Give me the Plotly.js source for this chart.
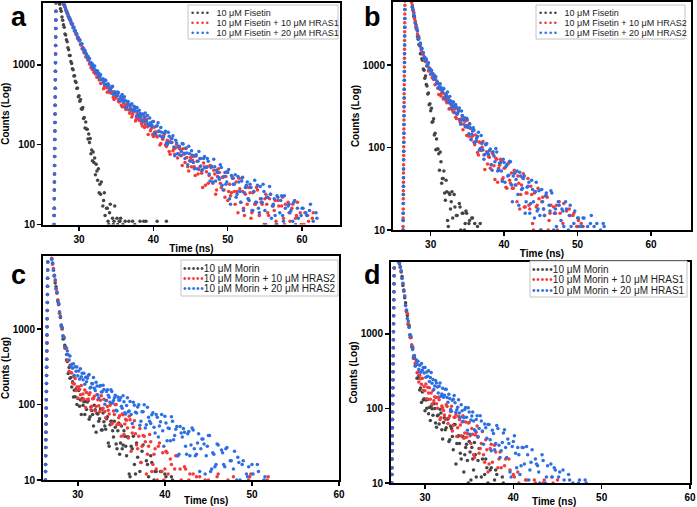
<!DOCTYPE html>
<html><head><meta charset="utf-8">
<script src="https://cdn.plot.ly/plotly-3.0.1.min.js"></script>
<style>html,body{margin:0;padding:0;background:#fff}#chart{width:697px;height:507px}</style>
</head><body><div id="chart"></div>
<script>
// ---------------- DATA ----------------
const yTickVals = [10, 100, 1000];
const yTickText = ['10', '100', '1000'];
const xTickVals = [30, 40, 50, 60];
const panelLetters = ['a', 'b', 'c', 'd'];
const xTitle = 'Time (ns)';
const yTitle = 'Counts (Log)';

const legendA = ['10 μM Fisetin', '10 μM Fisetin + 10 μM HRAS1', '10 μM Fisetin + 20 μM HRAS1'];
const legendB = ['10 μM Fisetin', '10 μM Fisetin + 10 μM HRAS2', '10 μM Fisetin + 20 μM HRAS2'];
const legendC = ['10 μM Morin', '10 μM Morin + 10 μM HRAS2', '10 μM Morin + 20 μM HRAS2'];
const legendD = ['10 μM Morin', '10 μM Morin + 10 μM HRAS1', '10 μM Morin + 20 μM HRAS1'];

// rising edge (time, ns)
const riseTimeA = [26.62,26.63,26.64,26.65,26.66,26.67,26.68,26.69,26.70,26.71,26.72,26.73,26.74,26.75,26.76,26.77,26.78,26.79,26.80,26.81,26.82,26.83,26.84,26.85,26.86,26.87,26.88,26.89,26.90,26.91,26.92,26.93];
const riseTimeB = [26.22,26.23,26.24,26.25,26.26,26.27,26.28,26.29,26.30,26.31,26.32,26.33,26.34,26.35,26.36,26.37,26.38,26.39,26.40,26.41,26.42,26.43,26.44,26.45,26.46,26.47,26.48,26.49,26.50,26.51,26.52,26.53];
const riseTimeC = [26.26,26.27,26.28,26.29,26.30,26.31,26.32,26.33,26.34,26.35,26.36,26.37,26.38,26.39,26.40,26.41,26.42,26.43,26.44,26.45,26.46,26.47,26.48,26.49,26.50,26.51,26.52,26.53,26.54,26.55,26.56,26.57];
const riseTimeD = [26.22,26.23,26.24,26.25,26.26,26.27,26.28,26.29,26.30,26.31,26.32,26.33,26.34,26.35,26.36,26.37,26.38,26.39,26.40,26.41,26.42,26.43,26.44,26.45,26.46,26.47,26.48,26.49,26.50,26.51,26.52,26.53];
const riseCounts = [6,8,10,13,16,21,27,34,43,55,71,90,116,149,190,243,312,398,510,652,836,1070,1368,1752,2245,2870,3676,4705,6025,7710,9870,12600];
const riseCountsAlt = [7,9,11,14,18,24,30,38,49,62,80,102,131,168,215,275,352,450,576,738,945,1210,1548,1982,2540,3250,4160,5320,6815,8720,11150,14200];

// decay time channels (ns)
const tDecayA = [27,27.1,27.2,27.3,27.4,27.5,27.6,27.7,27.8,27.9,
28,28.1,28.2,28.3,28.4,28.5,28.6,28.7,28.8,28.9,
29,29.1,29.2,29.3,29.4,29.5,29.6,29.7,29.8,29.9,
30,30.1,30.2,30.3,30.4,30.5,30.6,30.7,30.8,30.9,
31,31.1,31.2,31.3,31.4,31.5,31.6,31.7,31.8,31.9,
32,32.1,32.2,32.3,32.4,32.5,32.6,32.7,32.8,32.9,
33,
33.2,33.4,33.6,33.8,34,34.2,34.4,34.6,34.8,35,
35.2,35.4,35.6,35.8,36,36.2,36.4,36.6,36.8,37,
37.2,37.4,37.6,37.8,38,38.2,38.4,38.6,38.8,39,
39.2,39.4,39.6,39.8,40,
40.25,40.5,40.75,41,41.25,41.5,41.75,42,42.25,42.5,42.75,43,
43.25,43.5,43.75,44,44.25,44.5,44.75,45,
45.25,45.5,45.75,46,46.25,46.5,46.75,47,
47.25,47.5,47.75,48,48.25,48.5,48.75,49,
49.25,49.5,49.75,50,50.25,50.5,50.75,51,
51.25,51.5,51.75,52,52.25,52.5,52.75,53,
53.25,53.5,53.75,54,54.25,54.5,54.75,55,
55.25,55.5,55.75,56,56.25,56.5,56.75,57,
57.25,57.5,57.75,58,58.25,58.5,58.75,59,
59.25,59.5,59.75,60,60.25,60.5,60.75,61,
61.25,61.5,61.75,62];
const tMidA = [33.3,33.5,33.7,33.9,34.1,34.3,34.5,34.7,34.9,35.1,35.3,35.5,35.7,35.9,36.1,36.3,36.5,36.7,36.9,37.1,
37.3,37.5,37.7,37.9,38.1,38.3,38.5,38.7,38.9,39.1,39.3,39.5,39.7,39.9,
40.125,40.375,40.625,40.875,41.125,41.375,41.625,41.875,42.125,42.375,42.625,42.875,
43.125,43.375,43.625,43.875,44.125,44.375,44.625,44.875,
45.125,45.375,45.625,45.875,46.125,46.375,46.625,46.875,
47.125,47.375,47.625,47.875,48.125,48.375,48.625,48.875,
49.125,49.375,49.625,49.875,50.125,50.375,50.625,50.875,
51.125,51.375,51.625,51.875,52.125,52.375,52.625,52.875,
53.125,53.375,53.625,53.875,54.125,54.375,54.625,54.875,
55.125,55.375,55.625,55.875,56.125,56.375,56.625,56.875,
57.125,57.375,57.625,57.875,58.125,58.375,58.625,58.875,
59.125,59.375,59.625,59.875,60.125,60.375,60.625,60.875,
61.125,61.375,61.625,61.875];
const tDecayB = [27,27.1,27.2,27.3,27.4,27.5,27.6,27.7,27.8,27.9,
28,28.1,28.2,28.3,28.4,28.5,28.6,28.7,28.8,28.9,
29,29.1,29.2,29.3,29.4,29.5,29.6,29.7,29.8,29.9,
30,30.1,30.2,30.3,30.4,30.5,30.6,30.7,30.8,30.9,
31,
31.2,31.4,31.6,31.8,32,32.2,32.4,32.6,32.8,33,
33.2,33.4,33.6,33.8,34,34.2,34.4,34.6,34.8,35,
35.2,35.4,35.6,35.8,36,
36.25,36.5,36.75,37,37.25,37.5,37.75,38,38.25,38.5,38.75,39,
39.25,39.5,39.75,40,40.25,40.5,40.75,41,
41.25,41.5,41.75,42,42.25,42.5,42.75,43,
43.25,43.5,43.75,44,44.25,44.5,44.75,45,
45.25,45.5,45.75,46,46.25,46.5,46.75,47,
47.25,47.5,47.75,48,48.25,48.5,48.75,49,
49.25,49.5,49.75,50,50.25,50.5,50.75,51,
51.25,51.5,51.75,52,52.25,52.5,52.75,53,
53.25,53.5,53.75,54];
const tMidB = [31.1,31.3,31.5,31.7,31.9,32.1,32.3,32.5,32.7,32.9,33.1,33.3,33.5,33.7,33.9,34.1,34.3,34.5,34.7,34.9,
35.1,35.3,35.5,35.7,35.9,
36.125,36.375,36.625,36.875,37.125,37.375,37.625,37.875,38.125,38.375,38.625,38.875,
39.125,39.375,39.625,39.875,40.125,40.375,40.625,40.875,
41.125,41.375,41.625,41.875,42.125,42.375,42.625,42.875,
43.125,43.375,43.625,43.875,44.125,44.375,44.625,44.875,
45.125,45.375,45.625,45.875,46.125,46.375,46.625,46.875,
47.125,47.375,47.625,47.875,48.125,48.375,48.625,48.875,
49.125,49.375,49.625,49.875,50.125,50.375,50.625,50.875,
51.125,51.375,51.625,51.875,52.125,52.375,52.625,52.875,
53.125,53.375,53.625,53.875];

// ---- panel a: Fisetin + HRAS1 ----
const grayA = [8800,8150,7070,6540,5790,5080,4720,3985,3640,3185,
2968,2452,2373,2077,1957,1644,1557,1312,1318,1105,
1040,898,870,727,733,625,604,507,515,401,
411,352,368,282,279,293,214,219,162,193,
158,156,118,136,107,120,77,86,63,81,
60,68,42,57,47,36,50,25,32,24,
34,
17,25,9,16,10,18,5,10,17,6,
10,11,12,7,9,11,6,8,5,9,
11,7,6,9,7,11,5,8,6,11,
7,5,8,6,9,
7,11,6,8,5,9,11,6,4,7];
const grayAMid = [20,13,16,11,14,9,12,11,8,12,9,11,6,10,8,5,9,11,6,8,5,10,7,6,9,5,8,11,6,4,8,5,9,6];
const redA = [8930,8470,8340,7670,7650,7220,7020,6440,6270,5780,
5760,5280,5100,4690,4600,4140,4080,3805,3775,3380,
3310,3300,2955,2910,2640,2695,2430,2365,2153,2178,
2008,2020,1798,1776,1602,1652,1516,1412,1458,1269,
1286,1230,1144,1182,1026,1071,926,981,873,882,
802,840,772,823,701,715,758,648,671,587,
654,
649,529,542,456,512,461,462,395,436,385,
417,343,357,300,334,314,282,320,248,265,
239,268,199,245,214,236,184,205,164,210,
168,181,150,175,127,
146,125,149,104,117,138,95,107,76,107,88,92,
68,90,73,89,60,69,47,69,
64,53,72,43,53,44,59,31,
53,41,54,33,43,27,50,33,
39,27,40,20,32,25,38,18,
26,38,19,26,13,29,21,25,
14,26,18,27,13,19,9,21,
18,13,24,9,15,11,20,5,
17,12,18,8,14,5,18,9,
13,7,14,4,10,7,13,4,
8,14,5,9];
const redAMid = [504,561,518,458,512,441,461,369,410,415,
352,375,312,379,297,277,321,273,289,222,
258,281,208,225,201,230,172,207,179,208,
134,175,159,134,
166,131,145,99,125,131,99,114,82,120,84,76,
101,77,88,55,76,90,53,63,
53,71,41,62,49,67,29,53,
46,33,55,38,48,24,40,45,
29,39,22,46,26,23,39,26,
34,14,28,38,16,24,18,29,
12,25,18,29,6,21,18,10,
24,14,21,6,17,20,10,17,
7,22,10,8,19,11,16,4,
12,19,5,10,7,14,4,11,
7,12,2,9];
const blueA = [8990,8400,8320,7830,7720,7140,6910,6380,6300,5950,
5580,5480,4930,4770,4460,4370,3905,3925,3650,3580,
3235,3200,2920,2995,2730,2675,2460,2470,2197,2205,
2067,2077,1831,1820,1840,1612,1613,1441,1516,1401,
1377,1238,1288,1180,1209,1058,1071,961,1028,981,
913,970,833,851,794,838,708,784,721,756,
658,
672,574,640,550,558,491,526,431,463,421,
458,372,391,425,341,360,296,348,311,316,
265,303,264,292,232,246,201,241,225,200,
232,174,189,168,195,
136,173,148,165,123,140,106,143,109,120,94,114,
77,96,82,102,67,79,96,62,
74,50,75,62,67,47,67,52,
67,43,52,34,53,48,39,56,
31,40,32,45,21,41,32,42,
24,34,19,39,25,31,21,32,
15,26,19,31,14,21,32,15,
22,9,24,17,21,10,22,14,
23,11,16,6,18,15,11,20,
7,12,8,16,3,14,9,15,
6,11,4,12];
const blueAMid = [607,652,568,581,475,517,543,432,449,410,
447,359,405,361,399,290,345,319,278,327,
276,295,226,263,270,221,243,194,250,194,
180,217,179,195,
141,170,188,130,143,125,148,101,128,107,130,73,
105,94,74,104,78,91,56,77,
84,60,73,50,82,54,49,71,
52,62,35,53,66,35,45,37,
52,27,45,34,49,18,38,32,
22,40,26,35,15,29,34,20,
29,15,36,19,16,30,19,26,
10,22,30,12,18,13,23,8,
20,13,23,4,17,14,7,19,
10,16,3,13,16,7,13,4,
18,7,6,14];

// ---- panel b: Fisetin + HRAS2 ----
const grayB = [9000,7860,7380,6420,5940,5025,4595,3910,3708,3272,
2841,2709,2207,2050,1773,1718,1368,1386,1191,1141,
895,865,689,734,580,557,445,458,329,340,
279,299,202,207,223,142,149,94,127,96,
96,
53,67,42,52,23,29,11,27,22,14,
27,8,15,9,19,2,16,10,17,5,
12,3,14,7,12,
6,9,12,5];
const grayBMid = [84,88,37,42,28,40,13,28,18,29,3,19,15,6,21,10,16,1,12,16,6,13,3,14,6,5,11,7,9];
const redB = [8760,8090,7020,6690,5785,5330,4620,4350,3650,3415,
2970,2860,2385,2259,2187,1800,1772,1526,1598,1433,
1316,1154,1219,1093,1134,964,973,844,921,864,
785,855,703,728,668,723,575,661,594,630,
522,
518,421,497,404,415,349,389,295,327,281,
320,232,253,286,204,223,164,214,179,185,
137,170,135,160,108,
119,81,114,101,81,109,63,76,62,83,41,72,
56,72,41,56,33,63,40,49,
32,49,22,37,27,43,19,28,
42,18,27,10,29,20,24,10,
25,15,26,10,16,5,19,16,
10,22,6,12,8,17,1,15,
9,16,5,11,3,12,11,4];
const redBMid = [438,504,456,388,448,369,392,293,339,340,
268,292,224,294,218,199,242,192,208,140,
176,196,124,139,116,
142,87,117,92,118,54,89,77,56,87,60,74,
38,61,68,43,57,32,65,37,
32,53,35,45,18,35,48,19,
28,20,34,12,28,19,32,4,
22,18,9,25,13,20,3,16,
20,8,16,5,21,8,6,18,
9,15,2,11,13,4,9,6];
const blueB = [8670,8130,7260,6420,6040,5120,4720,4160,3920,3222,
3100,2725,2593,2183,2087,1766,1852,1611,1579,1391,
1414,1198,1242,1134,1187,994,1014,1065,886,908,
771,866,787,789,683,750,670,719,597,619,
527,
585,537,474,521,400,419,373,414,299,357,
307,332,254,278,216,278,215,229,183,215,
147,173,145,174,114,
129,153,97,112,72,108,86,92,62,89,67,88,
53,65,39,66,59,45,68,35,
45,35,52,20,45,32,45,22,
34,16,40,22,29,17,30,10,
22,15,28,9,17,28,10,18,
4,20,13,17,5,18,10,20,
6,12,3,14,11,7,14,5,
9,6,12,3,11,7,6,4,
8,12,5,5];
const blueBMid = [538,593,499,512,393,441,470,350,368,322,
357,263,309,264,301,191,245,219,179,226,
175,192,125,159,163,
118,136,93,140,93,82,112,82,96,53,79,97,
52,65,52,72,38,62,46,67,
22,49,41,27,50,31,42,16,
33,38,21,31,14,38,18,15,
31,18,26,6,20,30,9,16,
11,22,5,18,11,22,1,15,
11,5,17,8,14,2,11,14,
5,11,3,15,6,4,12,6,
10,3,11,5];

// ---- panel c: Morin + HRAS2 ----
const grayC = [8460,7470,6040,5155,4078,3633,2990,2411,2180,1616,
1420,1132,1045,739,751,608,566,390,372,258,
310,223,227,171,200,126,155,127,161,100,
120,153,95,115,74,120,98,109,74,110,
86,
113,69,83,52,85,76,60,88,46,59,
47,69,28,60,45,60,30,45,22,52,
29,38,21,37,11,
26,16,31,8,17,29,8,16,2,17,10,13,
2,13,7,12,5,8,11,4];
const grayCMid = [108,64,93,74,98,43,75,65,46,77,
52,65,31,54,60,37,50,26,57,31,
26,45,28,37,12,
28,38,12,20,13,24,6,18,11,21,1,13,
9,4,13,6,11,2,8,10];
const redC = [8660,7215,6350,5000,4325,3400,3107,2420,2099,1638,
1488,1083,994,801,775,559,550,554,384,386,
275,330,266,262,192,235,187,221,153,171,
122,172,159,135,178,115,138,118,156,91,
144,
118,143,95,120,82,136,96,114,85,117,
67,94,75,104,57,74,100,55,71,38,
73,55,62,36,63,
42,61,29,38,17,39,32,22,40,13,22,14,
28,4,23,14,23,7,16,3,
21,8,14,5,15,2,10,6,
12,4,7,11,5,8,3,10,
6,9,4,11,5,7,3,8,
10,5,6,4,9,6,3,7,
5,8,11,4,6,3,7,5,
8,4,10,6];
const redCMid = [116,136,85,119,129,94,116,80,131,89,
81,113,84,98,55,82,99,54,67,54,
75,40,64,49,70,
24,50,41,26,48,28,38,12,28,32,16,26,
10,31,13,10,24,12,19,3,
14,21,5,10,6,14,3,12,
5,9,11,4,7,3,10,6,
8,4,9,5,12,3,7,6,
9,4,8,11,5,7,3,9,
6,4,10,12,5,8,3,6,
4,9,7,11];
const blueC = [8410,7457,5982,5129,4490,3452,2990,2305,2124,1691,
1454,1102,1034,817,780,577,584,459,510,457,
389,439,321,342,301,347,243,316,276,314,
240,278,217,297,234,260,213,260,185,229,
200,
243,165,190,228,153,176,122,178,148,158,
114,157,125,157,105,123,84,126,114,95,
131,78,97,80,110,
56,98,77,99,60,80,49,92,60,73,50,74,
37,59,45,70,33,48,69,34,
47,21,51,37,43,22,44,29,
46,21,31,13,35,30,21,39,
13,23,15,30,5,25,16,26,
9,18,5,24,10,17,7,18,
2,11,6,16,4,8,13,5,
9,11,4,7];
const blueCMid = [223,249,169,188,164,197,134,174,146,180,
101,149,133,107,149,113,133,82,115,123,
89,109,75,123,82,
74,107,79,93,53,80,99,54,68,56,78,42,
68,52,74,28,57,49,33,60,
39,51,22,42,48,28,41,21,
49,26,22,41,26,35,12,28,
39,14,22,16,29,9,23,15,
27,2,18,14,6,20,10,16,
2,12,15,5,12,3,16,6,
4,10,5,8];

// ---- panel d: Morin + HRAS1 ----
const grayD = [9850,8727,7960,6813,5918,4456,3901,3070,2630,2007,
1775,1350,1302,977,888,685,666,474,480,377,
385,255,257,275,177,188,120,167,130,135,
93,130,101,132,85,103,69,108,99,81,
116,
64,80,62,87,39,75,55,72,38,54,
28,61,34,43,25,42,14,30,20,36,
11,21,35,12,20,
4,21,13,16,4,16,8,15,3,9,12,5];
const grayDMid = [100,56,82,98,52,65,52,72,36,58,
42,61,18,42,34,21,42,24,33,10,
26,30,15,24,9,
29,12,8,21,10,15,2,11,13,4,7,10];
const redD = [9480,9030,7816,7082,5550,4714,3736,3228,2394,2089,
1880,1384,1227,903,904,719,644,487,507,406,
424,302,308,227,280,251,211,255,174,197,
173,213,135,193,161,190,133,161,115,174,
127,
140,101,131,75,102,82,112,63,80,107,
59,76,42,78,60,66,40,66,46,65,
34,45,22,48,41,
29,49,19,28,18,33,6,26,16,26,8,17,
4,21,8,13,5,14,4,9,
6,11,5,8,3,10,6,4,
9,11,5,7,3,10,6,11];
const redDMid = [144,116,142,71,108,94,71,106,75,91,
50,76,83,55,71,43,80,47,41,64,
43,54,24,44,58,
25,34,24,38,14,29,19,32,4,21,16,7,
21,9,15,2,12,7,10,5,
8,11,4,9,6,11,3,8,
5,10,6,4,9,12,5,7];
const blueD = [9250,9082,7928,7008,5590,4800,3769,3238,2431,2105,
1618,1499,1227,972,941,671,621,508,515,369,
450,391,431,337,380,307,401,326,354,299,
355,262,308,270,321,231,260,305,218,245,
180,
237,195,199,146,187,150,181,121,136,92,
133,119,96,131,76,93,75,103,51,90,
70,90,52,71,42,
80,50,62,40,61,27,46,34,54,22,35,52,
22,34,12,36,25,30,13,30,
18,31,11,19,5,21,17,10,
24,6,12,7,18,1,15,8,
14,4,11,3,13,6,10,4,
8,11,5,7,10,4];
const blueDMid = [200,219,161,220,157,142,181,140,155,97,
129,149,89,104,87,112,67,97,76,102,
45,79,68,50,80,
54,68,33,55,61,38,51,28,59,32,27,47,
30,39,14,31,43,16,24,17,
30,9,24,15,28,2,18,14,
6,20,10,17,2,12,16,5,
12,3,15,6,4,11,5,9,
6,10,4,8,11,5];

// ---------------- CHART ----------------
const W = 697, H = 507;
const FONT = 'Arial, "Liberation Sans", sans-serif';
const COLORS = ['#444444', '#f23a3a', '#2c6fe3'];
const X = p => p / W;
const Y = p => 1 - p / H;

const panels = [
  {x:'x', y:'y', riseT:riseTimeA, grid:tDecayA, mid:tMidA, data:[grayA, redA, blueA], mids:[grayAMid, redAMid, blueAMid],
   rises:[riseCounts, riseCounts, riseCounts], labels:legendA, xTitleAt:null,
   dom:[43,340,3,224.5], xr:[25.15,65.1], yr:[1,3.777], letter:[19,17], box:[188,338,5,39], rows:[12.5,22.8,33.2], dotX:190, fs:9, dots:'•\u2009•\u2009•\u2009•', gap:'\u00a0\u00a0 '},
  {x:'x2', y:'y2', riseT:riseTimeB, grid:tDecayB, mid:tMidB, data:[grayB, redB, blueB], mids:[grayBMid, redBMid, blueBMid],
   rises:[riseCounts, riseCountsAlt, riseCounts], labels:legendB, xTitleAt:null,
   dom:[393,691,2,230], xr:[24.87,65.45], yr:[1,3.764], letter:[372,17], box:[536,685,5,39], rows:[12.5,22.8,33.2], dotX:538, fs:9, dots:'•\u2009•\u2009•\u2009•', gap:'\u00a0\u00a0 '},
  {x:'x3', y:'y3', riseT:riseTimeC, grid:tDecayB, mid:tMidB, data:[grayC, redC, blueC], mids:[grayCMid, redCMid, blueCMid],
   rises:[riseCounts, riseCounts, riseCounts], labels:legendC, xTitleAt:[206,500],
   dom:[43,339,256,480], xr:[26.0,60], yr:[1,3.967], letter:[18,274.5], box:[181,338,260,296], rows:[268,278.3,288.6], dotX:182, fs:10, dots:'•\u200a•\u200a•\u200a•\u200a•', gap:''},
  {x:'x4', y:'y4', riseT:riseTimeD, grid:tDecayB, mid:tMidB, data:[grayD, redD, blueD], mids:[grayDMid, redDMid, blueDMid],
   rises:[riseCounts, riseCounts, riseCounts], labels:legendD, xTitleAt:[554,501],
   dom:[391,690,262,483], xr:[26.15,60], yr:[1,3.966], letter:[372,274.5], box:[530,687,261,297], rows:[269,279.5,290], dotX:531, fs:10, dots:'•\u200a•\u200a•\u200a•\u200a•', gap:''}
];

const traces = [];
const layout = {
  width: W, height: H, margin: {l:0, r:0, t:0, b:0},
  paper_bgcolor: '#fff', plot_bgcolor: '#fff', showlegend: false,
  annotations: [], shapes: []
};
const titleFont = {family: FONT, size: 10, color: '#000', weight: 'bold'};

panels.forEach((p, i) => {
  p.data.forEach((vals, k) => {
    const mv = p.mids[k];
    traces.push({
      type: 'scatter', mode: 'markers', name: p.labels[k],
      x: p.riseT.concat(p.grid.slice(0, vals.length), p.mid.slice(0, mv.length)),
      y: p.rises[k].concat(vals, mv),
      xaxis: p.x, yaxis: p.y, hoverinfo: 'skip',
      marker: {size: 3.5, color: COLORS[k], line: {width: 0}}
    });
  });
  const sfx = i === 0 ? '' : String(i + 1);
  const common = {showline: true, linecolor: '#000', linewidth: 2, mirror: true,
    ticks: 'outside', ticklen: 4, tickwidth: 1.5, tickcolor: '#000',
    showgrid: false, zeroline: false,
    tickfont: {family: FONT, size: 10, color: '#000', weight: 'bold'}};
  layout['xaxis' + sfx] = Object.assign({}, common, {
    domain: [X(p.dom[0]), X(p.dom[1])], range: p.xr, anchor: p.y,
    tickmode: 'array', tickvals: xTickVals,
    title: p.xTitleAt ? {text: ''} : {text: xTitle, font: titleFont, standoff: 1}
  });
  if (p.xTitleAt) {
    // title sits right of centre in the lower panels
    layout.annotations.push({xref:'paper', yref:'paper', x: X(p.xTitleAt[0]), y: Y(p.xTitleAt[1]),
      xanchor:'center', yanchor:'middle', showarrow:false, text: xTitle, font: titleFont});
  }
  layout['yaxis' + sfx] = Object.assign({}, common, {
    domain: [Y(p.dom[3]), Y(p.dom[2])], range: p.yr, type: 'log', anchor: p.x,
    tickmode: 'array', tickvals: yTickVals, ticktext: yTickText,
    title: {text: yTitle, font: titleFont, standoff: 1}
  });
  layout.annotations.push({xref:'paper', yref:'paper', x: X(p.letter[0]), y: Y(p.letter[1]),
    xanchor:'center', yanchor:'middle', showarrow:false, text: panelLetters[i],
    font:{family: FONT, size: 27, color:'#000', weight:'bold'}});
  layout.shapes.push({type:'rect', xref:'paper', yref:'paper', layer:'above',
    x0: X(p.box[0]), x1: X(p.box[1]), y0: Y(p.box[3]), y1: Y(p.box[2]),
    line:{color:'#c4c4c4', width:1}, fillcolor:'#fff'});
  p.labels.forEach((lab, k) => {
    layout.annotations.push({xref:'paper', yref:'paper', x: X(p.dotX), y: Y(p.rows[k]),
      xanchor:'left', yanchor:'middle', showarrow:false, borderpad:0,
      text: '<span style="color:' + COLORS[k] + '">' + p.dots + '</span>' + p.gap + lab,
      font:{family: FONT, size: p.fs, color:'#222'}});
  });
});

Plotly.newPlot('chart', traces, layout, {staticPlot: true, displayModeBar: false});
</script>
</body></html>
